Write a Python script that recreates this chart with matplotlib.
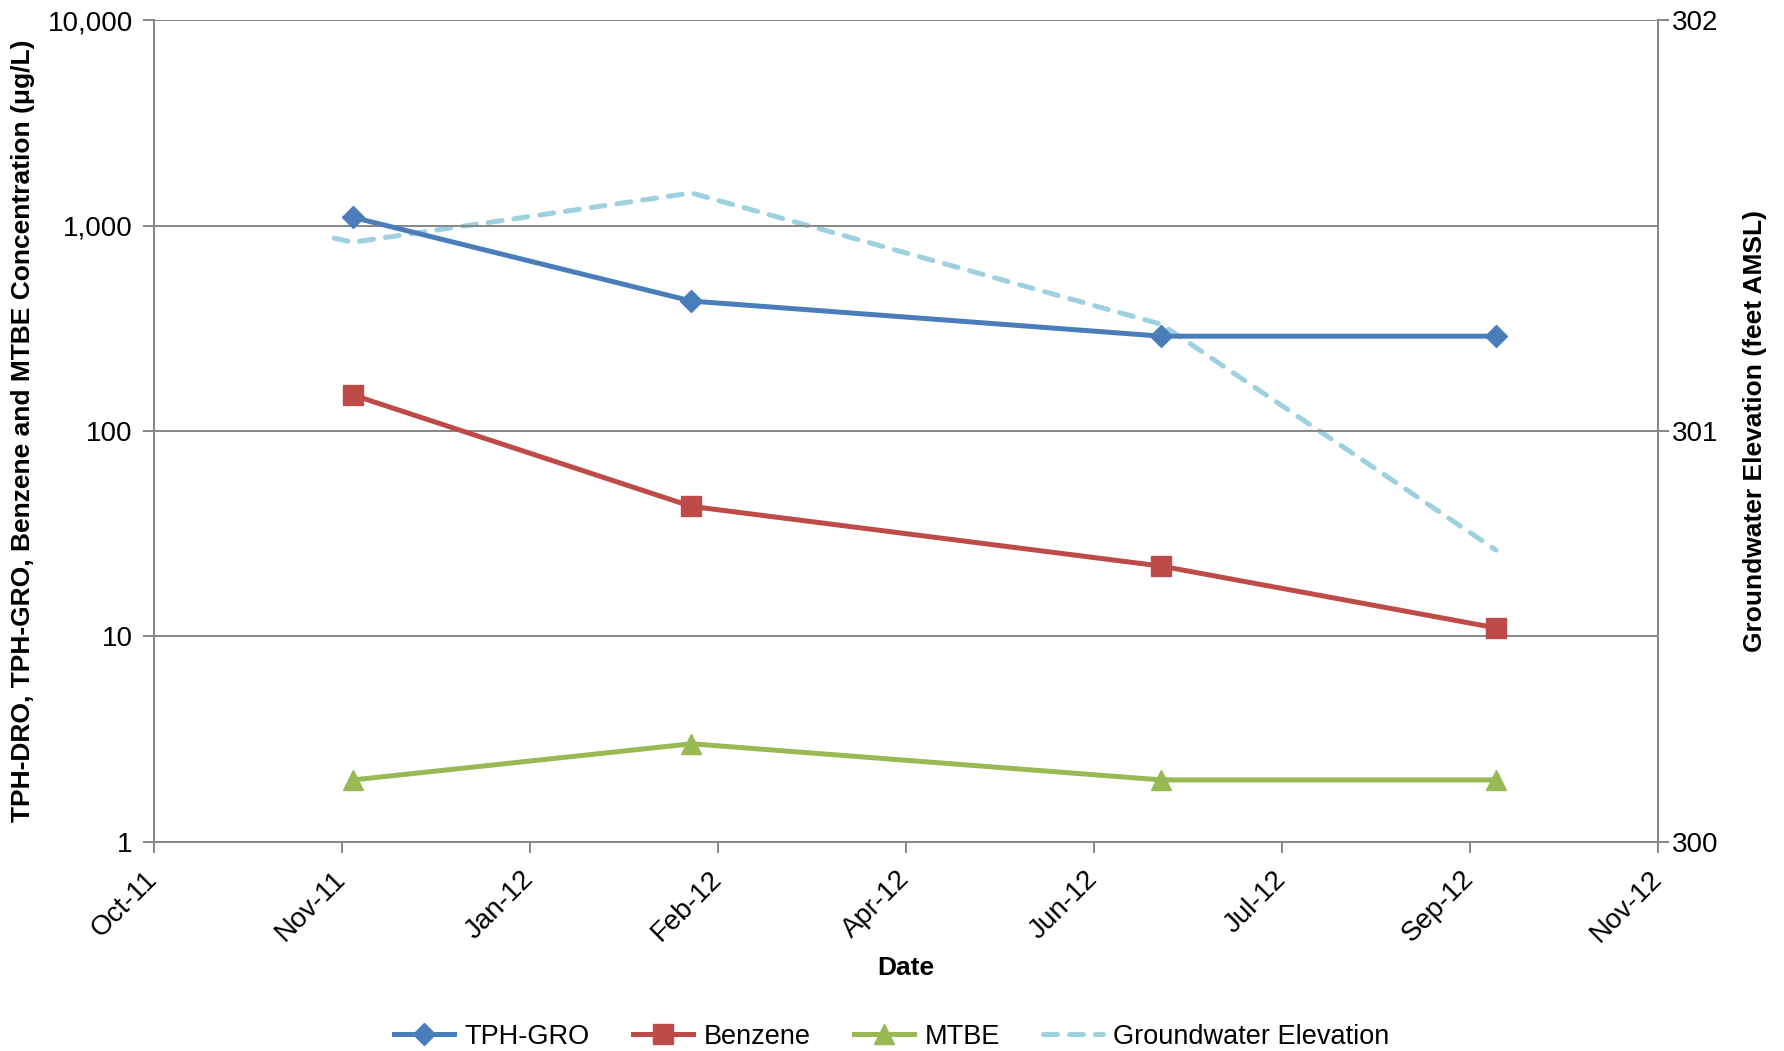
import datetime as dt
import matplotlib.pyplot as plt
import matplotlib.dates as mdates
from matplotlib.ticker import FixedLocator, FuncFormatter

plt.rcParams['font.family'] = ['Liberation Sans', 'DejaVu Sans']

# sample dates and results (ug/L)
sample_dates = [dt.date(2011, 11, 23), dt.date(2012, 2, 21),
                dt.date(2012, 6, 25), dt.date(2012, 9, 22)]
tph_gro = [1100, 430, 290, 290]
benzene = [150, 43, 22, 11]
mtbe = [2, 3, 2, 2]

# groundwater elevations (feet AMSL)
gw_dates = [dt.date(2011, 11, 18), dt.date(2011, 11, 23), dt.date(2012, 2, 21),
            dt.date(2012, 6, 25), dt.date(2012, 9, 22)]
gw_elev = [301.47, 301.46, 301.58, 301.26, 300.71]

x_start = dt.date(2011, 10, 1)
x_end = dt.date(2012, 11, 4)
x_ticks = [x_start + dt.timedelta(days=50 * i) for i in range(9)]

grey = '#868686'
c_tph = '#4A7EBB'
c_ben = '#BE4B48'
c_mtbe = '#98B954'
c_gw = '#9DD1E0'

fig = plt.figure(figsize=(17.84, 10.51), dpi=100)
ax = fig.add_subplot(111)
fig.subplots_adjust(left=0.0861, right=0.9293, top=0.9805, bottom=0.1991)
ax2 = ax.twinx()

ax.set_zorder(2)
ax.patch.set_visible(False)

l1, = ax.plot(sample_dates, tph_gro, color=c_tph, lw=3.6, marker='D', ms=11.5,
              label='TPH-GRO')
l2, = ax.plot(sample_dates, benzene, color=c_ben, lw=3.6, marker='s', ms=14,
              label='Benzene')
l3, = ax.plot(sample_dates, mtbe, color=c_mtbe, lw=3.6, marker='^', ms=15,
              label='MTBE')
l4, = ax2.plot(gw_dates, gw_elev, color=c_gw, lw=3.6, ls=(0, (2.8, 2.4)),
               dash_capstyle='round', label='Groundwater Elevation')

ax.set_yscale('log')
ax.set_ylim(1, 10000)
ax.yaxis.set_major_locator(FixedLocator([1, 10, 100, 1000, 10000]))
ax.yaxis.set_minor_locator(FixedLocator([]))
ax.yaxis.set_major_formatter(FuncFormatter(lambda v, p: f'{v:,.0f}'))
ax.grid(axis='y', color=grey, lw=1.4)
ax.set_axisbelow(True)

ax.set_xlim(x_start, x_end)
ax.set_xticks(x_ticks)
ax.xaxis.set_major_formatter(mdates.DateFormatter('%b-%y'))
plt.setp(ax.get_xticklabels(), rotation=45, ha='right', va='center',
         rotation_mode='anchor')

ax2.set_ylim(300, 302)
ax2.set_yticks([300, 301, 302])

for a in (ax, ax2):
    for s in a.spines.values():
        s.set_color(grey)
        s.set_linewidth(1.4)
    a.spines['top'].set_visible(False)
ax.spines['right'].set_visible(False)
ax2.spines['left'].set_visible(False)
ax2.spines['bottom'].set_visible(False)

ax.tick_params(axis='y', direction='out', length=8, width=1.4, color=grey,
               labelsize=20, pad=7)
ax.tick_params(axis='x', direction='out', length=8, width=1.4, color=grey,
               labelsize=20, pad=16)
ax2.tick_params(axis='y', direction='out', length=8, width=1.4, color=grey,
                labelsize=20, pad=2)

ax.set_ylabel('TPH-DRO, TPH-GRO, Benzene and MTBE Concentration (μg/L)',
              fontsize=19, fontweight='bold', labelpad=9)
ax2.set_ylabel('Groundwater Elevation (feet AMSL)', fontsize=19,
               fontweight='bold', labelpad=18)
ax.set_xlabel('Date', fontsize=19, fontweight='bold', labelpad=6)

fig.legend(handles=[l1, l2, l3, l4], loc='lower center', ncol=4,
           bbox_to_anchor=(0.5, -0.022), frameon=False, fontsize=19.5,
           handlelength=2.2, columnspacing=1.6, handletextpad=0.4)

fig.savefig('out.png', dpi=100)
